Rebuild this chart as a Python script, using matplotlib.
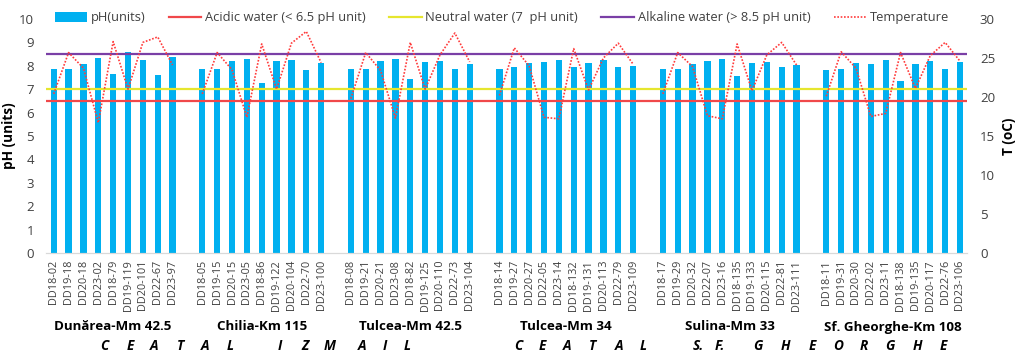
import numpy as np
import matplotlib
matplotlib.use("Agg")
import matplotlib.pyplot as plt
from matplotlib.patches import Patch
from matplotlib.lines import Line2D
import matplotlib.transforms as mtransforms

plt.rcParams['font.family'] = ['Open Sans', 'DejaVu Sans']

# --- data ---
stations = ["Dunărea-Mm 42.5", "Chilia-Km 115", "Tulcea-Mm 42.5",
            "Tulcea-Mm 34", "Sulina-Mm 33", "Sf. Gheorghe-Km 108"]

samples = [
    ["DD18-02", "DD19-18", "DD20-18", "DD23-02", "DD18-79", "DD19-119", "DD20-101", "DD22-67", "DD23-97"],
    ["DD18-05", "DD19-15", "DD20-15", "DD23-05", "DD18-86", "DD19-122", "DD20-104", "DD22-70", "DD23-100"],
    ["DD18-08", "DD19-21", "DD20-21", "DD23-08", "DD18-82", "DD19-125", "DD20-110", "DD22-73", "DD23-104"],
    ["DD18-14", "DD19-27", "DD20-27", "DD22-05", "DD23-14", "DD18-132", "DD19-131", "DD20-113", "DD22-79", "DD23-109"],
    ["DD18-17", "DD19-29", "DD20-32", "DD22-07", "DD23-16", "DD18-135", "DD19-133", "DD20-115", "DD22-81", "DD23-111"],
    ["DD18-11", "DD19-31", "DD20-30", "DD22-02", "DD23-11", "DD18-138", "DD19-135", "DD20-117", "DD22-76", "DD23-106"],
]

ph = [
    [7.85, 7.88, 8.08, 8.32, 7.64, 8.58, 8.24, 7.60, 8.36],
    [7.88, 7.88, 8.21, 8.29, 7.27, 8.21, 8.25, 7.84, 8.11],
    [7.85, 7.88, 8.19, 8.28, 7.44, 8.17, 8.21, 7.88, 8.08],
    [7.85, 7.95, 8.12, 8.15, 8.24, 7.95, 8.12, 8.24, 7.97, 7.99],
    [7.88, 7.88, 8.08, 8.21, 8.29, 7.57, 8.11, 8.17, 7.95, 8.02],
    [7.84, 7.87, 8.11, 8.09, 8.24, 7.35, 8.09, 8.22, 7.85, 8.15],
]

temperature = [
    [20.4, 25.7, 23.7, 16.7, 27.1, 21.0, 27.0, 27.7, 24.1],
    [20.4, 25.7, 23.5, 17.4, 26.8, 21.0, 26.9, 28.4, 24.4],
    [19.8, 25.7, 23.4, 17.3, 27.0, 21.0, 25.4, 28.2, 24.5],
    [20.2, 26.3, 24.0, 17.4, 17.2, 26.2, 20.9, 25.0, 26.9, 24.2],
    [20.4, 25.7, 23.9, 17.6, 17.2, 26.8, 20.8, 25.4, 27.0, 24.1],
    [20.1, 25.8, 23.7, 17.5, 17.9, 25.7, 21.1, 25.3, 27.0, 24.6],
]

acidic_limit = 6.5
neutral_level = 7.0
alkaline_limit = 8.5

region_letters = ["C", "E", "A", "T", "A", "L", "I", "Z", "M", "A", "I", "L",
                  "C", "E", "A", "T", "A", "L",
                  "S.", "F.", "G", "H", "E", "O", "R", "G", "H", "E"]
# pixel x positions of the spaced letters (layout only)
letter_px = [104, 130, 154, 180, 205, 230, 280, 305, 330, 362, 385, 407,
             518, 542, 567, 593, 619, 643,
             698, 720, 758, 785, 812, 838, 864, 890, 917, 943]

# --- category positions with one empty slot between stations ---
xs, centers = [], []
pos = 0
for g in range(len(stations)):
    n = len(samples[g])
    gx = list(range(pos, pos + n))
    xs.append(gx)
    centers.append((gx[0] + gx[-1]) / 2)
    pos += n + 1

W, H = 1017, 353
fig = plt.figure(figsize=(W / 100, H / 100), dpi=100)
ax = fig.add_axes([46.3 / W, 1 - 253 / H, (967.4 - 46.3) / W, (253 - 19) / H])
ax2 = ax.twinx()

bar_color = '#00B0F0'
red = '#F0484A'
yellow = '#E6E62E'
purple = '#7A3FA6'
temp_color = '#FF3B3B'

for g in range(len(stations)):
    ax.bar(xs[g], ph[g], width=0.42, color=bar_color, zorder=2)
    ax2.plot(xs[g], temperature[g], color=temp_color, linestyle=(0, (1, 1)),
             linewidth=1.2, zorder=4)

last_x = xs[-1][-1]
ax.axhline(acidic_limit, color=red, linewidth=1.6, zorder=3)
ax.axhline(neutral_level, color=yellow, linewidth=1.6, zorder=3)
ax.axhline(alkaline_limit, color=purple, linewidth=1.6, zorder=3)

ax.set_xlim(-0.5, last_x + 0.5)
ax.set_ylim(0, 10)
ax2.set_ylim(0, 30)
ax.set_yticks(range(0, 11))
ax2.set_yticks(range(0, 31, 5))

tick_x = [x for gx in xs for x in gx]
tick_lab = [s for gs in samples for s in gs]
ax.set_xticks(tick_x)
ax.set_xticklabels(tick_lab, rotation=90, fontsize=7.8, color='#404040')

for a in (ax, ax2):
    for side in ('top', 'left', 'right'):
        a.spines[side].set_visible(False)
    a.spines['bottom'].set_color('#D9D9D9')
    a.tick_params(length=0, labelsize=9.5, colors='#404040')
ax.tick_params(axis='x', labelsize=7.8, pad=5)
ax.tick_params(axis='y', pad=9)
ax2.tick_params(axis='y', pad=9)

ax.set_ylabel('pH (units)', fontsize=9.8, fontweight='bold', labelpad=2)
ax2.set_ylabel('T (oC)', fontsize=9.8, fontweight='bold', labelpad=5)

# station labels under each group
trans = mtransforms.blended_transform_factory(ax.transData, fig.transFigure)
for g, name in enumerate(stations):
    ax.text(centers[g], 1 - 327 / H, name, transform=trans, ha='center',
            va='center', fontsize=9.6, fontweight='bold', color='black')

for letter, px in zip(region_letters, letter_px):
    fig.text(px / W, 1 - 346 / H, letter, ha='center', va='center',
             fontsize=9.8, fontweight='bold', fontstyle='italic')

handles = [
    Patch(facecolor=bar_color, edgecolor='none'),
    Line2D([], [], color=red, linewidth=1.6),
    Line2D([], [], color=yellow, linewidth=1.6),
    Line2D([], [], color=purple, linewidth=1.6),
    Line2D([], [], color=temp_color, linestyle=(0, (1, 1)), linewidth=1.2),
]
names = ['pH(units)', 'Acidic water (< 6.5 pH unit)', 'Neutral water (7  pH unit)',
         'Alkaline water (> 8.5 pH unit)', 'Temperature']
leg = fig.legend(handles, names, loc='center', bbox_to_anchor=(502 / W, 1 - 18 / H),
                 ncol=5, frameon=False, fontsize=9.3, handlelength=2.5,
                 handletextpad=0.3, columnspacing=1.8, borderaxespad=0)
for t in leg.get_texts():
    t.set_color('#404040')

fig.savefig('out.png', dpi=100)
